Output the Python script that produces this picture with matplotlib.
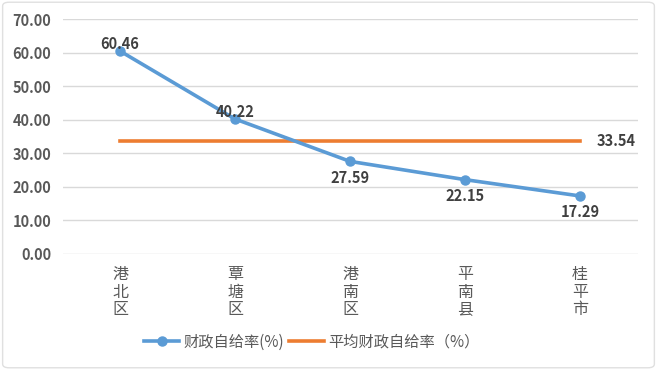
import matplotlib.pyplot as plt
from matplotlib.patches import FancyBboxPatch

plt.rcParams['font.family'] = ['Noto Sans CJK SC', 'DejaVu Sans']

regions = ['港北区', '覃塘区', '港南区', '平南县', '桂平市']
ratio = [60.46, 40.22, 27.59, 22.15, 17.29]
avg_ratio = 33.54
yticks = [0, 10, 20, 30, 40, 50, 60, 70]

fig = plt.figure(figsize=(6.57, 3.70), dpi=100)
ax = fig.add_axes([62.5 / 657, 116 / 370, 575 / 657, 235 / 370])

x = list(range(len(regions)))
ax.plot(x, ratio, color='#5b9bd5', lw=2.6, marker='o', ms=6.5, label='财政自给率(%)', zorder=3)
ax.plot(x, [avg_ratio] * len(x), color='#ed7d31', lw=2.6, label='平均财政自给率（%）', zorder=2)

ax.set_xlim(-0.5, len(x) - 0.5)
ax.set_ylim(0, 70)
ax.set_yticks(yticks)
ax.set_yticklabels([f'{v:.2f}' for v in yticks], fontsize=10.5, fontweight='bold', color='#595959')
ax.set_xticks(x)
ax.set_xticklabels(['\n'.join(r) for r in regions], fontsize=11.5, color='#595959', linespacing=1.02)
ax.tick_params(axis='x', length=0, pad=9)
ax.tick_params(axis='y', length=0, pad=8)
ax.grid(axis='y', color='#d9d9d9', lw=1)
for s in ax.spines.values():
    s.set_visible(False)

# data labels: above for first two, below for the rest
for i, v in enumerate(ratio):
    if i < 2:
        ax.annotate(f'{v:.2f}', (i, v), xytext=(0, -1), textcoords='offset points',
                    ha='center', va='bottom', fontsize=10.5, fontweight='bold', color='#404040', zorder=4)
    else:
        ax.annotate(f'{v:.2f}', (i, v), xytext=(0, -6), textcoords='offset points',
                    ha='center', va='top', fontsize=10.5, fontweight='bold', color='#404040')
ax.annotate(f'{avg_ratio:.2f}', (x[-1], avg_ratio), xytext=(12, 0), textcoords='offset points',
            ha='left', va='center', fontsize=10.5, fontweight='bold', color='#404040')

leg = fig.legend(loc='center', bbox_to_anchor=(312 / 657, 1 - 342 / 370), ncol=2, frameon=False,
                 fontsize=11, handlelength=2.3, columnspacing=0.3, handletextpad=0.3)
for t in leg.get_texts():
    t.set_color('#595959')

fig.patches.append(FancyBboxPatch((0.004, 0.006), 0.992, 0.988, boxstyle='round,pad=0,rounding_size=0.01',
                                  transform=fig.transFigure, fc='none', ec='#e0e0e0', lw=1))

fig.savefig('out.png', dpi=100)
